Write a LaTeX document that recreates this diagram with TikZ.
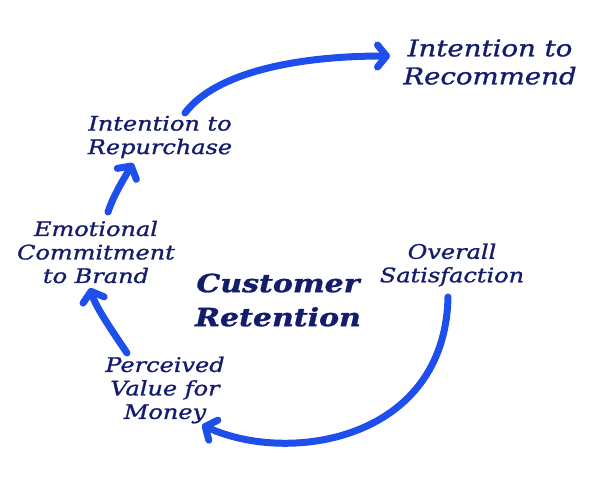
\documentclass[tikz,border=0pt]{standalone}
\usepackage{fontspec}
\setmainfont{DejaVu Serif}[FakeStretch=1.2,FakeBold=1.2]
\usetikzlibrary{arrows.meta}
\definecolor{arrowblue}{RGB}{30,78,235}
\definecolor{inkblue}{RGB}{20,28,108}
\tikzset{
  lbl/.style={inner sep=0pt, align=center, text=inkblue, font=\itshape\fontsize{20}{23.5}\selectfont},
  biglbl/.style={lbl, font=\itshape\bfseries\fontsize{25}{34}\selectfont},
  toplbl/.style={lbl, font=\itshape\fontsize{23}{28}\selectfont},
  arr/.style={draw=arrowblue, line width=7pt, line cap=round,
    -{Straight Barb[length=9pt,width=22pt,round]}}
}
\begin{document}
\begin{tikzpicture}[x=1pt,y=-1pt]
\useasboundingbox (0,0) rectangle (600,480);
\node[toplbl] (rec) at (490,62) {Intention to\\Recommend};
\node[lbl] (rep) at (160,137) {Intention to\\Repurchase};
\node[lbl] (emo) at (96,252) {Emotional\\Commitment\\to Brand};
\node[biglbl] (cr) at (278,300) {Customer\\Retention};
\node[lbl] (sat) at (452,265) {Overall\\Satisfaction};
\node[lbl] (per) at (165,390) {Perceived\\Value for\\Money};

\draw[arr] ([shift={(25,-24)}]rep.center) .. controls +(30,-40) and +(-95,0) .. ([shift={(-100,-6)}]rec.center);
\draw[arr] ([shift={(12,-40)}]emo.center) .. controls +(6,-18) and +(-8,14) .. ([shift={(-27,26)}]rep.center);
\draw[arr] ([shift={(-38,-37)}]per.center) .. controls +(-12,-18) and +(6,20) .. ([shift={(-6,36)}]emo.center);
\draw[arr] ([shift={(-4,32)}]sat.center) .. controls +(-3,143) and +(88,40) .. ([shift={(37,35)}]per.center);
\end{tikzpicture}
\end{document}
